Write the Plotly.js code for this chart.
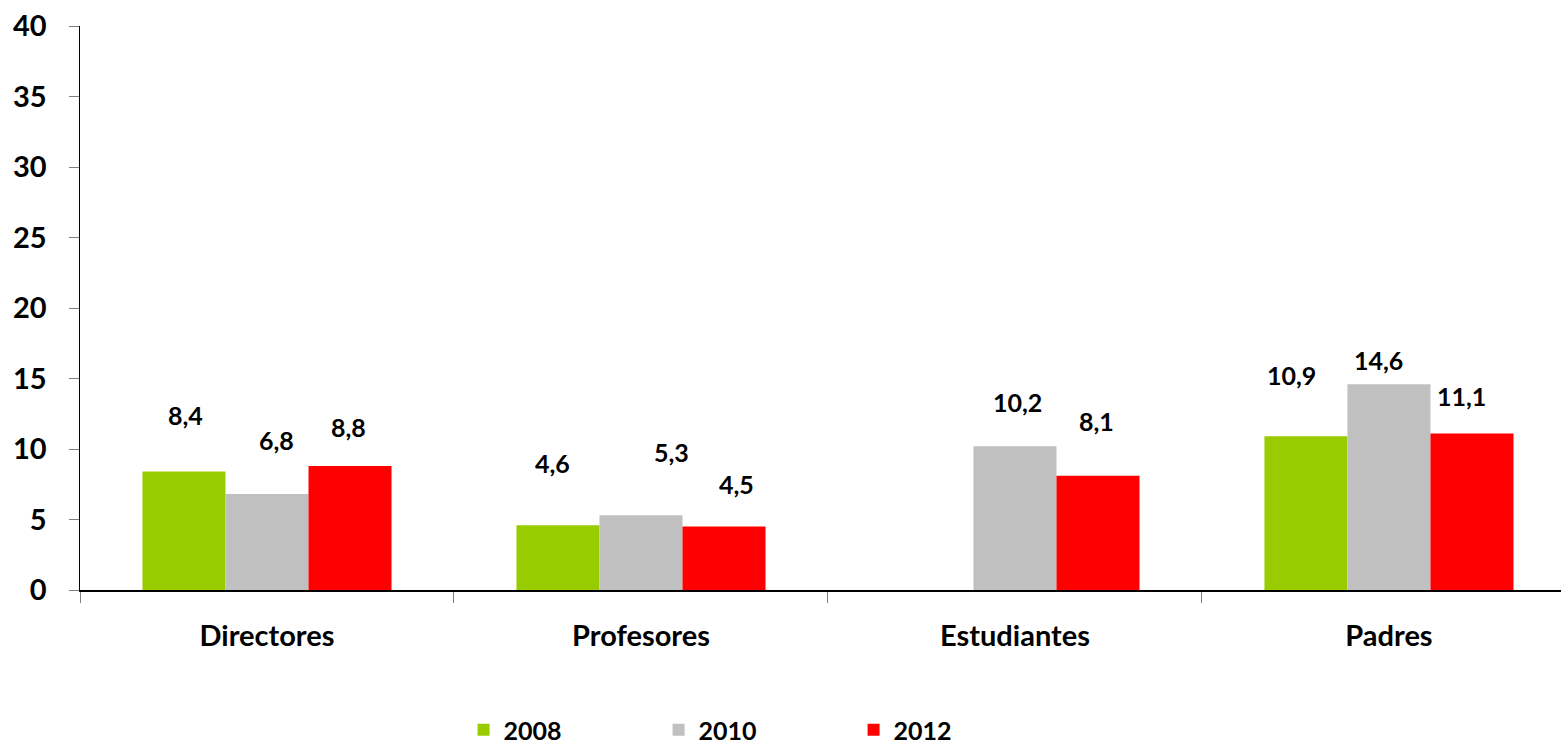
<!DOCTYPE html>
<html>
<head>
<meta charset="utf-8">
<script src="https://cdn.plot.ly/plotly-3.0.1.min.js"></script>
<style>html,body{margin:0;padding:0;background:#fff;}#chart{width:1561px;height:748px;}</style>
</head>
<body>
<div id="chart"></div>
<script>
const categories = ["Directores", "Profesores", "Estudiantes", "Padres"];
const years = ["2008", "2010", "2012"];
const values2008 = [8.4, 4.6, null, 10.9];
const values2010 = [6.8, 5.3, 10.2, 14.6];
const values2012 = [8.8, 4.5, 8.1, 11.1];
const yTicks = [0, 5, 10, 15, 20, 25, 30, 35, 40];

const colors = ["#99CC00", "#C0C0C0", "#FF0000"];
const series = [values2008, values2010, values2012];

// manual label nudges (pixels) as in the original, per series per category: [dx, dy]
const labelNudges = [
  [[2, 57], [-5, 62], [0, 0], [-14, 61]],
  [[10, 54], [31, 63], [3, 44], [-10, 24]],
  [[-1, 39], [13, 43], [-1, 55], [-10, 37]]
];

const font = "Lato, 'Open Sans', sans-serif";
const barPx = 83;

const traces = series.map((vals, i) => ({
  type: "bar",
  name: years[i],
  x: categories,
  y: vals,
  marker: {color: colors[i], line: {width: 0}},
  hoverinfo: "none"
}));

const annotations = [];
series.forEach((vals, i) => {
  vals.forEach((v, j) => {
    if (v === null) return;
    annotations.push({
      x: categories[j], y: v, xref: "x", yref: "y",
      text: v.toFixed(1).replace(".", ","),
      showarrow: false,
      xshift: (i - 1) * barPx + labelNudges[i][j][0],
      yshift: labelNudges[i][j][1],
      yanchor: "middle",
      font: {family: font, size: 25, color: "#000", weight: "bold"}
    });
  });
});

const layout = {
  width: 1561, height: 748,
  margin: {l: 80, r: 0, t: 26, b: 158},
  paper_bgcolor: "#fff", plot_bgcolor: "#fff",
  barmode: "group",
  bargap: 0.334, bargroupgap: 0,
  showlegend: true,
  legend: {
    orientation: "h", x: 0.259, xanchor: "left",
    yref: "container", y: 0.024, yanchor: "middle",
    entrywidth: 150, entrywidthmode: "pixels",
    font: {family: font, size: 25, color: "#000", weight: "bold"},
    itemclick: false, itemdoubleclick: false
  },
  xaxis: {
    range: [-0.5, 3.46],
    automargin: false,
    tickson: "boundaries",
    ticks: "outside", ticklen: 11, tickcolor: "#808080", tickwidth: 1,
    showline: true, linecolor: "#000", linewidth: 1.5,
    showgrid: false, zeroline: false,
    ticklabelstandoff: 20,
    tickfont: {family: font, size: 29, color: "#000", weight: "bold"}
  },
  yaxis: {
    range: [0, 40],
    automargin: false,
    tickvals: yTicks, ticktext: yTicks.map(String),
    ticks: "outside", ticklen: 10, tickcolor: "#808080", tickwidth: 1,
    showline: true, linecolor: "#000", linewidth: 1.5,
    showgrid: false, zeroline: false,
    ticklabelstandoff: 16,
    tickfont: {family: font, size: 29, color: "#000", weight: "bold"}
  },
  annotations: annotations
};

Plotly.newPlot("chart", traces, layout, {displayModeBar: false, staticPlot: true});
</script>
</body>
</html>
